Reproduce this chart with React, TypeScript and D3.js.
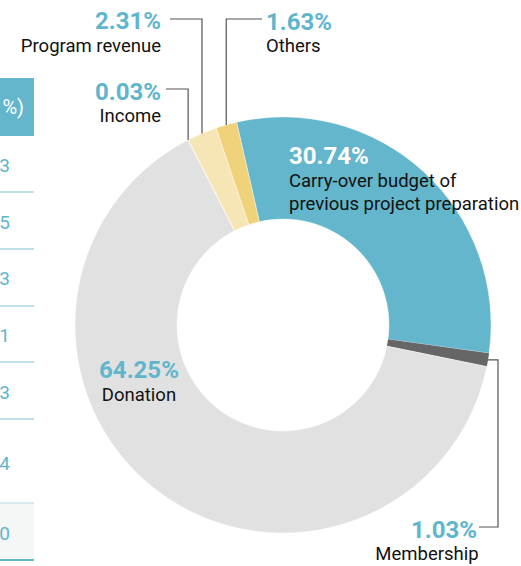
import React from "react";
import * as d3 from "d3";

const categories = ["Carry-over budget of previous project preparation", "Membership", "Donation", "Income", "Program revenue", "Others"];
const values = [30.74, 1.03, 64.25, 0.03, 2.31, 1.63];
const colors = ["#63b6cb", "#666666", "#e1e1e1", "#f3f3f3", "#f7e6b5", "#f0d27a"];
const tableValues = ["3", "5", "3", "1", "3", "4", "0"];

const W = 521, H = 566;
const cx = 283, cy = 325, R = 208, r0 = 106;
const TEAL = "#5fb6cc";
const FONT = "Roboto, 'Noto Sans', sans-serif";
const PCT = 24;
const LBL = 18.5;

export default function App() {
  const pie = d3.pie<number>().sort(null).value(d => d)
    .startAngle(-12.9 * Math.PI / 180).endAngle(-12.9 * Math.PI / 180 + 2 * Math.PI);
  const arcs = pie(values);
  const arc = d3.arc<d3.PieArcDatum<number>>().innerRadius(r0).outerRadius(R);
  const outerPt = (i: number) => {
    const a = (arcs[i].startAngle + arcs[i].endAngle) / 2;
    return [cx + R * Math.sin(a), cy - R * Math.cos(a)];
  };

  const rowLines = [192, 249, 306, 362, 419, 503];
  const rowCenters = [165, 222, 278, 335, 392, 463, 533];

  const [incX, incY] = outerPt(3);
  const [prX, prY] = outerPt(4);
  const [otX, otY] = outerPt(5);
  const [mbX, mbY] = outerPt(1);

  const lineStyle = { stroke: "#555", strokeWidth: 1.2, fill: "none" };

  return (
    <svg width={W} height={H} style={{ position: "absolute", left: 0, top: 0 }} fontFamily={FONT}>
      {/* partial table */}
      <rect x={0} y={78} width={34} height={58} fill="#63b6cb" />
      <text x={24} y={114} fill="#fff" fontSize={20} textAnchor="end">%)</text>
      <rect x={0} y={503} width={34} height={57} fill="#f5f7f7" />
      {rowLines.map((y, i) => (
        <line key={i} x1={0} x2={34} y1={y} y2={y} stroke={i === 5 ? "#b5dde7" : "#7cc3d4"} strokeWidth={1.2} />
      ))}
      <line x1={0} x2={34} y1={560} y2={560} stroke="#63b6cb" strokeWidth={2} />
      {tableValues.map((v, i) => (
        <text key={i} x={10} y={rowCenters[i] + 7} fill={TEAL} fontSize={19} textAnchor="end">{v}</text>
      ))}

      {/* donut */}
      <g transform={`translate(${cx},${cy})`}>
        {arcs.map((a, i) => (
          <path key={i} d={arc(a) || ""} fill={colors[i]} stroke="#fff" strokeWidth={i === 1 ? 0 : 0.4} />
        ))}
      </g>

      {/* leaders */}
      <polyline points={`166,89 ${incX},89 ${incX},${incY}`} style={lineStyle} />
      <polyline points={`170,19 ${prX},19 ${prX},${prY}`} style={lineStyle} />
      <polyline points={`262,19 ${otX},19 ${otX},${otY}`} style={lineStyle} />
      <polyline points={`479,527 498,527 498,${mbY} ${mbX},${mbY}`} style={lineStyle} />

      {/* labels */}
      <text x={161} y={29} fill={TEAL} fontSize={PCT} fontWeight="bold" textAnchor="end">{values[4].toFixed(2)}%</text>
      <text x={161} y={52} fill="#111" fontSize={LBL} textAnchor="end">{categories[4]}</text>

      <text x={161} y={100} fill={TEAL} fontSize={PCT} fontWeight="bold" textAnchor="end">{values[3].toFixed(2)}%</text>
      <text x={161} y={122} fill="#111" fontSize={LBL} textAnchor="end">{categories[3]}</text>

      <text x={266} y={30} fill={TEAL} fontSize={PCT} fontWeight="bold">{values[5].toFixed(2)}%</text>
      <text x={266} y={52} fill="#111" fontSize={LBL}>{categories[5]}</text>

      <text x={289} y={164} fill="#fff" fontSize={PCT} fontWeight="bold">{values[0].toFixed(2)}%</text>
      <text x={289} y={187} fill="#111" fontSize={LBL}>Carry-over budget of</text>
      <text x={289} y={210} fill="#111" fontSize={LBL}>previous project preparation</text>

      <text x={139} y={378} fill={TEAL} fontSize={PCT} fontWeight="bold" textAnchor="middle">{values[2].toFixed(2)}%</text>
      <text x={139} y={401} fill="#111" fontSize={LBL} textAnchor="middle">{categories[2]}</text>

      <text x={477} y={538} fill={TEAL} fontSize={PCT} fontWeight="bold" textAnchor="end">{values[1].toFixed(2)}%</text>
      <text x={427} y={560} fill="#111" fontSize={LBL} textAnchor="middle">{categories[1]}</text>
    </svg>
  );
}
